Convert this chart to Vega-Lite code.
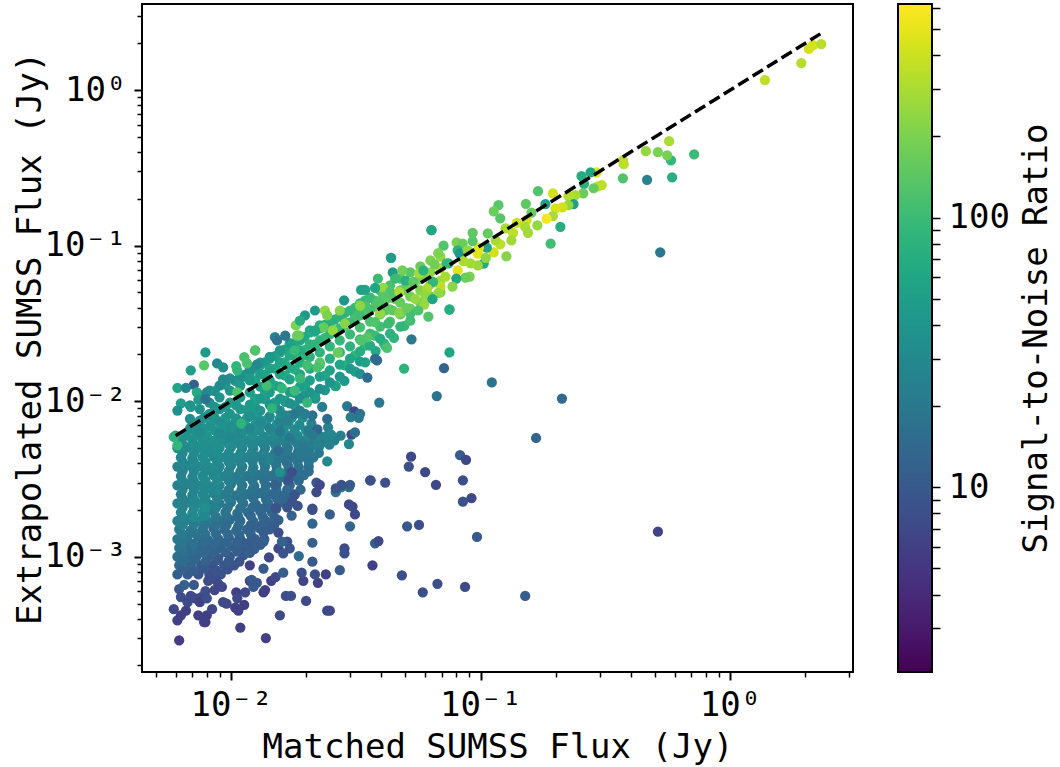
{
"$schema":"https://vega.github.io/schema/vega-lite/v6.json",
"width":711,"height":668,
"autosize":{"type":"none"},
"padding":{"left":142,"top":4,"right":207,"bottom":95},
"background":"white",
"config":{"font":"DejaVu Sans Mono","view":{"stroke":"black","strokeWidth":2}},
"resolve":{"scale":{"y":"independent"}},
"layer":[
{"data":{"values":[
{"x":0.0061,"y":0.00077,"snr":11},{"x":0.0067,"y":0.00077,"snr":10},{"x":0.0074,"y":0.00077,"snr":9},{"x":0.0082,"y":0.00077,"snr":8},{"x":0.0091,"y":0.00077,"snr":9},
{"x":0.0062,"y":0.00088,"snr":14},{"x":0.0069,"y":0.00088,"snr":12},{"x":0.0076,"y":0.00088,"snr":10},{"x":0.0084,"y":0.00088,"snr":9},{"x":0.0094,"y":0.00088,"snr":9},{"x":0.0103,"y":0.00088,"snr":9},
{"x":0.0061,"y":0.001,"snr":16},{"x":0.0067,"y":0.001,"snr":14},{"x":0.0073,"y":0.00102,"snr":13},{"x":0.0081,"y":0.001,"snr":11},{"x":0.0089,"y":0.00098,"snr":11},{"x":0.0099,"y":0.001,"snr":10},{"x":0.0112,"y":0.00102,"snr":10},
{"x":0.0062,"y":0.00114,"snr":18},{"x":0.0068,"y":0.00116,"snr":15},{"x":0.0075,"y":0.00114,"snr":14},{"x":0.0082,"y":0.00112,"snr":13},{"x":0.0091,"y":0.00114,"snr":12},{"x":0.0101,"y":0.00116,"snr":11},{"x":0.0113,"y":0.00114,"snr":10},{"x":0.0124,"y":0.00112,"snr":12},
{"x":0.0061,"y":0.0013,"snr":20},{"x":0.0067,"y":0.00133,"snr":18},{"x":0.0074,"y":0.0013,"snr":16},{"x":0.0081,"y":0.00128,"snr":14},{"x":0.0089,"y":0.0013,"snr":13},{"x":0.0098,"y":0.00133,"snr":12},{"x":0.0109,"y":0.0013,"snr":12},{"x":0.0121,"y":0.00128,"snr":11},{"x":0.0136,"y":0.0013,"snr":10},
{"x":0.0062,"y":0.0015,"snr":22},{"x":0.0069,"y":0.00148,"snr":20},{"x":0.0077,"y":0.0015,"snr":17},{"x":0.0085,"y":0.00153,"snr":15},{"x":0.0094,"y":0.0015,"snr":14},{"x":0.0105,"y":0.00148,"snr":13},{"x":0.0116,"y":0.0015,"snr":13},{"x":0.013,"y":0.00153,"snr":12},{"x":0.0143,"y":0.0015,"snr":11},
{"x":0.0061,"y":0.0017,"snr":26},{"x":0.0067,"y":0.00173,"snr":24},{"x":0.0074,"y":0.0017,"snr":30},{"x":0.0081,"y":0.00168,"snr":20},{"x":0.009,"y":0.0017,"snr":16},{"x":0.0099,"y":0.00173,"snr":15},{"x":0.0109,"y":0.0017,"snr":14},{"x":0.0123,"y":0.00168,"snr":13},{"x":0.0138,"y":0.0017,"snr":12},
{"x":0.0063,"y":0.00193,"snr":28},{"x":0.007,"y":0.0019,"snr":30},{"x":0.0077,"y":0.00193,"snr":32},{"x":0.0085,"y":0.00196,"snr":22},{"x":0.0095,"y":0.00193,"snr":18},{"x":0.0106,"y":0.0019,"snr":16},{"x":0.0117,"y":0.00193,"snr":16},{"x":0.0131,"y":0.00196,"snr":14},{"x":0.0146,"y":0.00193,"snr":13},
{"x":0.0061,"y":0.0022,"snr":26},{"x":0.0067,"y":0.00224,"snr":25},{"x":0.0074,"y":0.0022,"snr":30},{"x":0.0082,"y":0.00216,"snr":24},{"x":0.009,"y":0.0022,"snr":20},{"x":0.01,"y":0.00224,"snr":18},{"x":0.0112,"y":0.0022,"snr":17},{"x":0.0126,"y":0.00216,"snr":15},{"x":0.0141,"y":0.0022,"snr":14},{"x":0.0157,"y":0.00224,"snr":13},
{"x":0.0063,"y":0.00252,"snr":25},{"x":0.007,"y":0.00248,"snr":26},{"x":0.0077,"y":0.00252,"snr":28},{"x":0.0085,"y":0.00256,"snr":26},{"x":0.0094,"y":0.00252,"snr":22},{"x":0.0105,"y":0.00248,"snr":19},{"x":0.0116,"y":0.00252,"snr":18},{"x":0.013,"y":0.00256,"snr":16},{"x":0.0145,"y":0.00252,"snr":15},{"x":0.0162,"y":0.00248,"snr":14},{"x":0.018,"y":0.00252,"snr":13},
{"x":0.0061,"y":0.00288,"snr":24},{"x":0.0067,"y":0.00293,"snr":26},{"x":0.0074,"y":0.00288,"snr":28},{"x":0.0082,"y":0.00284,"snr":30},{"x":0.009,"y":0.00288,"snr":24},{"x":0.01,"y":0.00293,"snr":20},{"x":0.0111,"y":0.00288,"snr":19},{"x":0.0124,"y":0.00284,"snr":18},{"x":0.0138,"y":0.00288,"snr":16},{"x":0.0153,"y":0.00293,"snr":15},{"x":0.0172,"y":0.00288,"snr":14},
{"x":0.0063,"y":0.0033,"snr":24},{"x":0.007,"y":0.00325,"snr":26},{"x":0.0077,"y":0.0033,"snr":30},{"x":0.0085,"y":0.00335,"snr":28},{"x":0.0094,"y":0.0033,"snr":26},{"x":0.0104,"y":0.00325,"snr":22},{"x":0.0116,"y":0.0033,"snr":20},{"x":0.0129,"y":0.00335,"snr":19},{"x":0.0144,"y":0.0033,"snr":17},{"x":0.016,"y":0.00325,"snr":16},{"x":0.0178,"y":0.0033,"snr":15},{"x":0.0196,"y":0.00335,"snr":16},
{"x":0.0061,"y":0.0038,"snr":26},{"x":0.0067,"y":0.00385,"snr":28},{"x":0.0074,"y":0.0038,"snr":30},{"x":0.0082,"y":0.00375,"snr":32},{"x":0.009,"y":0.0038,"snr":28},{"x":0.01,"y":0.00385,"snr":26},{"x":0.0111,"y":0.0038,"snr":24},{"x":0.0123,"y":0.00375,"snr":22},{"x":0.0137,"y":0.0038,"snr":20},{"x":0.0152,"y":0.00385,"snr":18},{"x":0.017,"y":0.0038,"snr":18},{"x":0.0187,"y":0.00375,"snr":17},{"x":0.0205,"y":0.0038,"snr":18},
{"x":0.0063,"y":0.00435,"snr":28},{"x":0.007,"y":0.0043,"snr":30},{"x":0.0077,"y":0.00435,"snr":32},{"x":0.0085,"y":0.0044,"snr":30},{"x":0.0094,"y":0.00435,"snr":30},{"x":0.0104,"y":0.0043,"snr":28},{"x":0.0116,"y":0.00435,"snr":26},{"x":0.0128,"y":0.0044,"snr":24},{"x":0.0142,"y":0.00435,"snr":22},{"x":0.0158,"y":0.0043,"snr":20},{"x":0.0175,"y":0.00435,"snr":19},{"x":0.0194,"y":0.0044,"snr":19},{"x":0.0214,"y":0.00435,"snr":20},
{"x":0.0061,"y":0.005,"snr":32},{"x":0.0067,"y":0.00505,"snr":30},{"x":0.0074,"y":0.005,"snr":33},{"x":0.0082,"y":0.00495,"snr":32},{"x":0.009,"y":0.005,"snr":34},{"x":0.01,"y":0.00505,"snr":30},{"x":0.0111,"y":0.005,"snr":28},{"x":0.0123,"y":0.00495,"snr":28},{"x":0.0137,"y":0.005,"snr":24},{"x":0.0152,"y":0.00505,"snr":24},{"x":0.0169,"y":0.005,"snr":22},{"x":0.0187,"y":0.00495,"snr":20},{"x":0.0207,"y":0.005,"snr":22},{"x":0.0225,"y":0.00505,"snr":24},
{"x":0.0063,"y":0.0056,"snr":34},{"x":0.007,"y":0.00565,"snr":36},{"x":0.0077,"y":0.0056,"snr":36},{"x":0.0085,"y":0.00555,"snr":36},{"x":0.0094,"y":0.0056,"snr":34},{"x":0.0104,"y":0.00565,"snr":32},{"x":0.0116,"y":0.0056,"snr":30},{"x":0.0128,"y":0.00555,"snr":30},{"x":0.0142,"y":0.0056,"snr":28},{"x":0.0158,"y":0.00565,"snr":26},{"x":0.0175,"y":0.0056,"snr":25},{"x":0.0194,"y":0.00555,"snr":24},{"x":0.0214,"y":0.0056,"snr":24},{"x":0.0236,"y":0.00565,"snr":25},{"x":0.026,"y":0.0056,"snr":24},
{"x":0.0064,"y":0.00083,"snr":12},{"x":0.0071,"y":0.00081,"snr":11},{"x":0.0078,"y":0.00084,"snr":10},{"x":0.0087,"y":0.00082,"snr":9},{"x":0.0097,"y":0.00083,"snr":9},
{"x":0.0064,"y":0.00094,"snr":15},{"x":0.0072,"y":0.00096,"snr":13},{"x":0.0079,"y":0.00093,"snr":12},{"x":0.0088,"y":0.00095,"snr":10},{"x":0.0098,"y":0.00094,"snr":10},{"x":0.0108,"y":0.00093,"snr":9},
{"x":0.0065,"y":0.00107,"snr":17},{"x":0.007,"y":0.00109,"snr":15},{"x":0.0078,"y":0.00106,"snr":14},{"x":0.0086,"y":0.00108,"snr":12},{"x":0.0095,"y":0.00107,"snr":12},{"x":0.0106,"y":0.00108,"snr":11},{"x":0.0119,"y":0.00106,"snr":11},
{"x":0.0064,"y":0.00123,"snr":19},{"x":0.0071,"y":0.00121,"snr":17},{"x":0.0078,"y":0.00123,"snr":15},{"x":0.0086,"y":0.00122,"snr":14},{"x":0.0096,"y":0.00124,"snr":13},{"x":0.0107,"y":0.00122,"snr":12},{"x":0.0118,"y":0.00121,"snr":11},{"x":0.0131,"y":0.00119,"snr":11},
{"x":0.0064,"y":0.0014,"snr":21},{"x":0.0072,"y":0.00142,"snr":19},{"x":0.0079,"y":0.00139,"snr":17},{"x":0.0087,"y":0.00141,"snr":15},{"x":0.0097,"y":0.0014,"snr":14},{"x":0.0108,"y":0.00138,"snr":13},{"x":0.012,"y":0.0014,"snr":12},{"x":0.0135,"y":0.00143,"snr":11},
{"x":0.0064,"y":0.0016,"snr":24},{"x":0.0071,"y":0.00162,"snr":22},{"x":0.0078,"y":0.00159,"snr":19},{"x":0.0087,"y":0.00161,"snr":17},{"x":0.0096,"y":0.0016,"snr":15},{"x":0.0107,"y":0.00158,"snr":14},{"x":0.012,"y":0.0016,"snr":13},{"x":0.0134,"y":0.00162,"snr":12},{"x":0.0148,"y":0.00159,"snr":11},
{"x":0.0064,"y":0.00182,"snr":27},{"x":0.0071,"y":0.0018,"snr":30},{"x":0.0079,"y":0.00183,"snr":28},{"x":0.0087,"y":0.00181,"snr":20},{"x":0.0096,"y":0.00182,"snr":17},{"x":0.0107,"y":0.0018,"snr":15},{"x":0.012,"y":0.00183,"snr":14},{"x":0.0134,"y":0.00181,"snr":13},{"x":0.015,"y":0.00178,"snr":12},
{"x":0.0064,"y":0.00207,"snr":26},{"x":0.0071,"y":0.00205,"snr":30},{"x":0.0079,"y":0.00208,"snr":34},{"x":0.0087,"y":0.00206,"snr":24},{"x":0.0097,"y":0.00207,"snr":19},{"x":0.0109,"y":0.00205,"snr":17},{"x":0.0122,"y":0.00208,"snr":15},{"x":0.0136,"y":0.00206,"snr":14},{"x":0.0152,"y":0.00204,"snr":13},
{"x":0.0064,"y":0.00236,"snr":25},{"x":0.0071,"y":0.00234,"snr":28},{"x":0.0079,"y":0.00237,"snr":29},{"x":0.0088,"y":0.00235,"snr":25},{"x":0.0098,"y":0.00236,"snr":21},{"x":0.011,"y":0.00234,"snr":18},{"x":0.0123,"y":0.00237,"snr":16},{"x":0.0138,"y":0.00235,"snr":15},{"x":0.0153,"y":0.00236,"snr":14},{"x":0.017,"y":0.00234,"snr":13},
{"x":0.0064,"y":0.0027,"snr":25},{"x":0.0071,"y":0.00268,"snr":27},{"x":0.0079,"y":0.00271,"snr":29},{"x":0.0088,"y":0.00269,"snr":28},{"x":0.0098,"y":0.0027,"snr":22},{"x":0.011,"y":0.00268,"snr":20},{"x":0.0122,"y":0.00271,"snr":18},{"x":0.0137,"y":0.00269,"snr":16},{"x":0.0152,"y":0.0027,"snr":15},{"x":0.017,"y":0.00268,"snr":14},{"x":0.019,"y":0.0027,"snr":14},
{"x":0.0064,"y":0.00308,"snr":25},{"x":0.0071,"y":0.00306,"snr":27},{"x":0.0079,"y":0.00309,"snr":31},{"x":0.0088,"y":0.00307,"snr":30},{"x":0.0098,"y":0.00308,"snr":24},{"x":0.0109,"y":0.00306,"snr":21},{"x":0.0122,"y":0.00309,"snr":19},{"x":0.0136,"y":0.00307,"snr":17},{"x":0.0152,"y":0.00308,"snr":16},{"x":0.0169,"y":0.00306,"snr":15},{"x":0.0187,"y":0.00309,"snr":15},
{"x":0.0064,"y":0.00355,"snr":26},{"x":0.0071,"y":0.00352,"snr":28},{"x":0.0079,"y":0.00356,"snr":30},{"x":0.0088,"y":0.00354,"snr":30},{"x":0.0098,"y":0.00355,"snr":26},{"x":0.0109,"y":0.00352,"snr":22},{"x":0.0122,"y":0.00356,"snr":21},{"x":0.0136,"y":0.00354,"snr":19},{"x":0.0152,"y":0.00355,"snr":17},{"x":0.0169,"y":0.00352,"snr":16},{"x":0.0187,"y":0.00356,"snr":16},{"x":0.0205,"y":0.00354,"snr":16},
{"x":0.0064,"y":0.00407,"snr":28},{"x":0.0071,"y":0.00404,"snr":30},{"x":0.0079,"y":0.00408,"snr":32},{"x":0.0088,"y":0.00406,"snr":30},{"x":0.0098,"y":0.00407,"snr":28},{"x":0.0109,"y":0.00404,"snr":26},{"x":0.0122,"y":0.00408,"snr":23},{"x":0.0135,"y":0.00406,"snr":21},{"x":0.015,"y":0.00407,"snr":19},{"x":0.0167,"y":0.00404,"snr":18},{"x":0.0185,"y":0.00408,"snr":18},{"x":0.0205,"y":0.00406,"snr":19},
{"x":0.0064,"y":0.00465,"snr":30},{"x":0.0071,"y":0.00462,"snr":31},{"x":0.0079,"y":0.00466,"snr":33},{"x":0.0088,"y":0.00464,"snr":33},{"x":0.0098,"y":0.00465,"snr":30},{"x":0.0109,"y":0.00462,"snr":28},{"x":0.0121,"y":0.00466,"snr":26},{"x":0.0135,"y":0.00464,"snr":24},{"x":0.015,"y":0.00465,"snr":22},{"x":0.0167,"y":0.00462,"snr":20},{"x":0.0185,"y":0.00466,"snr":19},{"x":0.0205,"y":0.00464,"snr":20},{"x":0.0225,"y":0.00465,"snr":20},
{"x":0.0064,"y":0.00528,"snr":32},{"x":0.0071,"y":0.00525,"snr":33},{"x":0.0079,"y":0.00529,"snr":35},{"x":0.0088,"y":0.00527,"snr":34},{"x":0.0098,"y":0.00528,"snr":32},{"x":0.0109,"y":0.00525,"snr":30},{"x":0.0121,"y":0.00529,"snr":28},{"x":0.0135,"y":0.00527,"snr":26},{"x":0.015,"y":0.00528,"snr":24},{"x":0.0167,"y":0.00525,"snr":23},{"x":0.0185,"y":0.00529,"snr":22},{"x":0.0205,"y":0.00527,"snr":22},{"x":0.0228,"y":0.00528,"snr":24},{"x":0.0248,"y":0.00525,"snr":24},
{"x":0.0066,"y":0.006,"snr":36},{"x":0.0073,"y":0.00605,"snr":36},{"x":0.008,"y":0.006,"snr":38},{"x":0.0089,"y":0.00595,"snr":36},{"x":0.0099,"y":0.006,"snr":35},{"x":0.011,"y":0.00605,"snr":34},{"x":0.0122,"y":0.006,"snr":32},{"x":0.0135,"y":0.00595,"snr":30},{"x":0.015,"y":0.006,"snr":30},{"x":0.0167,"y":0.00605,"snr":30},{"x":0.0185,"y":0.006,"snr":28},{"x":0.0204,"y":0.00595,"snr":28},{"x":0.0226,"y":0.006,"snr":26},{"x":0.025,"y":0.00605,"snr":24},{"x":0.0275,"y":0.006,"snr":25},
{"x":0.0071,"y":0.0065,"snr":38},{"x":0.0078,"y":0.00655,"snr":40},{"x":0.0086,"y":0.0065,"snr":40},{"x":0.0095,"y":0.00645,"snr":38},{"x":0.0105,"y":0.0065,"snr":36},{"x":0.0117,"y":0.00655,"snr":34},{"x":0.013,"y":0.0065,"snr":32},{"x":0.0145,"y":0.00645,"snr":32},{"x":0.0162,"y":0.0065,"snr":32},{"x":0.018,"y":0.00655,"snr":30},{"x":0.02,"y":0.0065,"snr":30},{"x":0.022,"y":0.00645,"snr":28},{"x":0.0245,"y":0.0068,"snr":26},
{"x":0.0075,"y":0.0071,"snr":40},{"x":0.0083,"y":0.00705,"snr":40},{"x":0.0092,"y":0.0071,"snr":40},{"x":0.0102,"y":0.00715,"snr":38},{"x":0.0113,"y":0.0071,"snr":36},{"x":0.0125,"y":0.00705,"snr":36},{"x":0.0138,"y":0.0071,"snr":36},{"x":0.0153,"y":0.00715,"snr":36},{"x":0.017,"y":0.0071,"snr":34},{"x":0.0188,"y":0.00705,"snr":30},{"x":0.021,"y":0.0072,"snr":26},
{"x":0.0078,"y":0.0078,"snr":40},{"x":0.0086,"y":0.00785,"snr":40},{"x":0.0095,"y":0.0078,"snr":42},{"x":0.0105,"y":0.00775,"snr":42},{"x":0.0116,"y":0.0078,"snr":40},{"x":0.0128,"y":0.00785,"snr":38},{"x":0.0142,"y":0.0078,"snr":36},{"x":0.0157,"y":0.00775,"snr":38},{"x":0.0175,"y":0.0078,"snr":40},{"x":0.0194,"y":0.00785,"snr":35},
{"x":0.0086,"y":0.0092,"snr":40},{"x":0.0095,"y":0.0092,"snr":44},{"x":0.0105,"y":0.0094,"snr":45},{"x":0.0116,"y":0.0088,"snr":44},{"x":0.0125,"y":0.0092,"snr":46},{"x":0.0137,"y":0.0103,"snr":48},{"x":0.015,"y":0.0094,"snr":46},{"x":0.0165,"y":0.0099,"snr":46},{"x":0.018,"y":0.0094,"snr":40},{"x":0.0197,"y":0.0109,"snr":40},{"x":0.0218,"y":0.0104,"snr":38},{"x":0.0238,"y":0.0118,"snr":42},{"x":0.0263,"y":0.0125,"snr":45},{"x":0.0285,"y":0.0135,"snr":48},{"x":0.0315,"y":0.0155,"snr":55},{"x":0.0345,"y":0.0178,"snr":55},{"x":0.038,"y":0.021,"snr":65},{"x":0.041,"y":0.0235,"snr":75},{"x":0.045,"y":0.0255,"snr":85},{"x":0.0495,"y":0.0305,"snr":95},
{"x":0.0095,"y":0.0128,"snr":38},{"x":0.0104,"y":0.0135,"snr":40},{"x":0.0114,"y":0.0148,"snr":42},{"x":0.0125,"y":0.0163,"snr":46},{"x":0.0137,"y":0.0178,"snr":48},{"x":0.015,"y":0.0195,"snr":50},{"x":0.0164,"y":0.0215,"snr":55},{"x":0.018,"y":0.0236,"snr":60},{"x":0.0197,"y":0.0258,"snr":65},{"x":0.0217,"y":0.028,"snr":70},{"x":0.0238,"y":0.031,"snr":70},{"x":0.026,"y":0.0335,"snr":75},{"x":0.0286,"y":0.037,"snr":85},{"x":0.0315,"y":0.04,"snr":90},{"x":0.0345,"y":0.0445,"snr":100},
{"x":0.0125,"y":0.0136,"snr":60},{"x":0.0137,"y":0.0148,"snr":60},{"x":0.015,"y":0.0162,"snr":65},{"x":0.0164,"y":0.0178,"snr":70},{"x":0.018,"y":0.0195,"snr":80},{"x":0.0197,"y":0.0213,"snr":85},{"x":0.0217,"y":0.0232,"snr":90},{"x":0.0238,"y":0.0255,"snr":100},{"x":0.026,"y":0.0278,"snr":110},{"x":0.0286,"y":0.0305,"snr":115},{"x":0.0315,"y":0.0335,"snr":125},{"x":0.0345,"y":0.037,"snr":135},{"x":0.038,"y":0.0405,"snr":140},{"x":0.0415,"y":0.0445,"snr":150},{"x":0.0455,"y":0.0485,"snr":170},{"x":0.05,"y":0.0535,"snr":190},{"x":0.0548,"y":0.0585,"snr":210},{"x":0.06,"y":0.064,"snr":230},
{"x":0.0114,"y":0.007,"snr":42},{"x":0.0125,"y":0.0085,"snr":45},{"x":0.0137,"y":0.0075,"snr":40},{"x":0.015,"y":0.0098,"snr":50},{"x":0.0165,"y":0.0101,"snr":50},{"x":0.018,"y":0.0113,"snr":55},{"x":0.0198,"y":0.0126,"snr":60},{"x":0.0217,"y":0.0109,"snr":50},{"x":0.0238,"y":0.0146,"snr":65},{"x":0.0261,"y":0.0126,"snr":55},{"x":0.0286,"y":0.017,"snr":80},{"x":0.0314,"y":0.0197,"snr":85},{"x":0.0345,"y":0.0228,"snr":95},{"x":0.0378,"y":0.0264,"snr":105},{"x":0.0415,"y":0.0228,"snr":90},
{"x":0.0125,"y":0.0104,"snr":55},{"x":0.0137,"y":0.0113,"snr":60},{"x":0.015,"y":0.0126,"snr":65},{"x":0.0165,"y":0.0146,"snr":70},{"x":0.018,"y":0.016,"snr":75},{"x":0.0198,"y":0.0197,"snr":85},{"x":0.0217,"y":0.0228,"snr":90},{"x":0.0238,"y":0.025,"snr":100},{"x":0.0261,"y":0.0285,"snr":110},{"x":0.0286,"y":0.032,"snr":115},{"x":0.0314,"y":0.0356,"snr":120},{"x":0.0345,"y":0.0412,"snr":125},{"x":0.0378,"y":0.0444,"snr":130},{"x":0.0415,"y":0.0383,"snr":140},{"x":0.0455,"y":0.0455,"snr":150},{"x":0.05,"y":0.0515,"snr":165},
{"x":0.0109,"y":0.0139,"snr":45},{"x":0.0119,"y":0.0152,"snr":50},{"x":0.0131,"y":0.017,"snr":55},{"x":0.0143,"y":0.0188,"snr":50},{"x":0.0157,"y":0.0205,"snr":60},{"x":0.0172,"y":0.0228,"snr":60},{"x":0.0189,"y":0.0246,"snr":65},{"x":0.0207,"y":0.0285,"snr":60},{"x":0.0227,"y":0.0307,"snr":70},
{"x":0.0081,"y":0.0081,"snr":30},{"x":0.007,"y":0.007,"snr":32},{"x":0.006,"y":0.006,"snr":45},
{"x":0.00685,"y":0.0094,"snr":30},{"x":0.00685,"y":0.0077,"snr":32},{"x":0.00685,"y":0.0067,"snr":35},
{"x":0.0075,"y":0.0109,"snr":32},{"x":0.0075,"y":0.0089,"snr":35},{"x":0.0075,"y":0.0075,"snr":35},{"x":0.0075,"y":0.0063,"snr":32},
{"x":0.0082,"y":0.0117,"snr":30},{"x":0.0082,"y":0.0098,"snr":35},{"x":0.0082,"y":0.0083,"snr":40},{"x":0.0082,"y":0.0069,"snr":38},
{"x":0.009,"y":0.0126,"snr":30},{"x":0.009,"y":0.0106,"snr":40},{"x":0.009,"y":0.0089,"snr":38},{"x":0.009,"y":0.0074,"snr":35},{"x":0.009,"y":0.0062,"snr":30},
{"x":0.0099,"y":0.014,"snr":32},{"x":0.0099,"y":0.0117,"snr":40},{"x":0.0099,"y":0.0098,"snr":45},{"x":0.0099,"y":0.0083,"snr":40},{"x":0.0099,"y":0.0069,"snr":35},{"x":0.0099,"y":0.0059,"snr":30},
{"x":0.0109,"y":0.0146,"snr":35},{"x":0.0109,"y":0.0126,"snr":42},{"x":0.0109,"y":0.0106,"snr":45},{"x":0.0109,"y":0.0089,"snr":42},{"x":0.0109,"y":0.0074,"snr":35},{"x":0.0109,"y":0.0062,"snr":30},
{"x":0.0119,"y":0.0161,"snr":35},{"x":0.0119,"y":0.0136,"snr":45},{"x":0.0119,"y":0.0114,"snr":50},{"x":0.0119,"y":0.0095,"snr":45},{"x":0.0119,"y":0.008,"snr":35},{"x":0.0119,"y":0.0067,"snr":28},
{"x":0.0131,"y":0.0177,"snr":40},{"x":0.0131,"y":0.0149,"snr":50},{"x":0.0131,"y":0.0124,"snr":50},{"x":0.0131,"y":0.0104,"snr":45},{"x":0.0131,"y":0.0087,"snr":40},{"x":0.0131,"y":0.0073,"snr":30},
{"x":0.0143,"y":0.0193,"snr":42},{"x":0.0143,"y":0.0162,"snr":55},{"x":0.0143,"y":0.0136,"snr":55},{"x":0.0143,"y":0.0114,"snr":48},{"x":0.0143,"y":0.0095,"snr":40},{"x":0.0143,"y":0.008,"snr":30},{"x":0.0143,"y":0.0067,"snr":26},
{"x":0.0157,"y":0.0212,"snr":45},{"x":0.0157,"y":0.0177,"snr":60},{"x":0.0157,"y":0.0149,"snr":60},{"x":0.0157,"y":0.0124,"snr":50},{"x":0.0157,"y":0.0104,"snr":42},{"x":0.0157,"y":0.0087,"snr":30},{"x":0.0157,"y":0.0073,"snr":26},
{"x":0.0172,"y":0.0236,"snr":50},{"x":0.0172,"y":0.0197,"snr":65},{"x":0.0172,"y":0.0164,"snr":65},{"x":0.0172,"y":0.0138,"snr":55},{"x":0.0172,"y":0.0115,"snr":45},{"x":0.0172,"y":0.0097,"snr":35},{"x":0.0172,"y":0.0081,"snr":27},
{"x":0.0189,"y":0.0253,"snr":60},{"x":0.0189,"y":0.0212,"snr":70},{"x":0.0189,"y":0.0177,"snr":70},{"x":0.0189,"y":0.0149,"snr":60},{"x":0.0189,"y":0.0124,"snr":50},{"x":0.0189,"y":0.0104,"snr":35},{"x":0.0189,"y":0.0087,"snr":25},
{"x":0.0207,"y":0.0277,"snr":65},{"x":0.0207,"y":0.0232,"snr":80},{"x":0.0207,"y":0.0193,"snr":80},{"x":0.0207,"y":0.0162,"snr":65},{"x":0.0207,"y":0.0136,"snr":50},{"x":0.0207,"y":0.0114,"snr":40},
{"x":0.0227,"y":0.0294,"snr":70},{"x":0.0227,"y":0.0246,"snr":85},{"x":0.0227,"y":0.0206,"snr":85},{"x":0.0227,"y":0.0172,"snr":70},{"x":0.0227,"y":0.0144,"snr":50},{"x":0.0227,"y":0.012,"snr":35},
{"x":0.0249,"y":0.032,"snr":75},{"x":0.0249,"y":0.0269,"snr":90},{"x":0.0249,"y":0.0225,"snr":90},{"x":0.0249,"y":0.0188,"snr":75},{"x":0.0249,"y":0.0158,"snr":55},{"x":0.0249,"y":0.0132,"snr":38},
{"x":0.0273,"y":0.035,"snr":80},{"x":0.0273,"y":0.0294,"snr":95},{"x":0.0273,"y":0.0246,"snr":95},{"x":0.0273,"y":0.0206,"snr":80},{"x":0.0273,"y":0.0172,"snr":60},{"x":0.0273,"y":0.0144,"snr":42},
{"x":0.03,"y":0.0383,"snr":90},{"x":0.03,"y":0.032,"snr":100},{"x":0.03,"y":0.0269,"snr":100},{"x":0.03,"y":0.0225,"snr":80},{"x":0.03,"y":0.0188,"snr":60},{"x":0.03,"y":0.0162,"snr":45},
{"x":0.0329,"y":0.0425,"snr":95},{"x":0.0329,"y":0.0356,"snr":110},{"x":0.0329,"y":0.0298,"snr":115},{"x":0.0329,"y":0.025,"snr":90},{"x":0.0329,"y":0.0209,"snr":70},{"x":0.0329,"y":0.018,"snr":50},
{"x":0.0361,"y":0.0463,"snr":100},{"x":0.0361,"y":0.0389,"snr":120},{"x":0.0361,"y":0.0325,"snr":125},{"x":0.0361,"y":0.0272,"snr":100},{"x":0.0361,"y":0.0228,"snr":70},
{"x":0.0396,"y":0.0515,"snr":110},{"x":0.0396,"y":0.043,"snr":130},{"x":0.0396,"y":0.0361,"snr":135},{"x":0.0396,"y":0.0302,"snr":110},{"x":0.0396,"y":0.0253,"snr":70},
{"x":0.0434,"y":0.0555,"snr":120},{"x":0.0434,"y":0.0463,"snr":140},{"x":0.0434,"y":0.0389,"snr":150},{"x":0.0434,"y":0.0325,"snr":120},{"x":0.0434,"y":0.0272,"snr":80},
{"x":0.0477,"y":0.0615,"snr":130},{"x":0.0477,"y":0.0515,"snr":150},{"x":0.0477,"y":0.043,"snr":160},{"x":0.0477,"y":0.0361,"snr":150},
{"x":0.0523,"y":0.0673,"snr":140},{"x":0.0523,"y":0.0565,"snr":170},{"x":0.0523,"y":0.0472,"snr":180},{"x":0.0523,"y":0.0394,"snr":160},{"x":0.0523,"y":0.033,"snr":110},
{"x":0.0574,"y":0.0735,"snr":170},{"x":0.0574,"y":0.0615,"snr":200},{"x":0.0574,"y":0.0515,"snr":210},{"x":0.0574,"y":0.043,"snr":170},
{"x":0.063,"y":0.0803,"snr":200},{"x":0.063,"y":0.0673,"snr":240},{"x":0.063,"y":0.0565,"snr":240},{"x":0.063,"y":0.0472,"snr":190},
{"x":0.0691,"y":0.085,"snr":250},{"x":0.0691,"y":0.0715,"snr":300},{"x":0.0691,"y":0.0597,"snr":280},{"x":0.0691,"y":0.05,"snr":200},
{"x":0.0062,"y":0.00029,"snr":5.5},{"x":0.0138,"y":0.0003,"snr":6},{"x":0.0109,"y":0.00035,"snr":6},{"x":0.0157,"y":0.00042,"snr":7},{"x":0.0243,"y":0.00045,"snr":7},{"x":0.0249,"y":0.00045,"snr":7},{"x":0.02,"y":0.00052,"snr":7},{"x":0.0174,"y":0.00056,"snr":8},{"x":0.0166,"y":0.00056,"snr":8},{"x":0.0135,"y":0.00059,"snr":6},{"x":0.0137,"y":0.00061,"snr":6},
{"x":0.0145,"y":0.0007,"snr":6},{"x":0.0151,"y":0.00074,"snr":7},{"x":0.0119,"y":0.0007,"snr":6},{"x":0.0123,"y":0.00064,"snr":10},{"x":0.0127,"y":0.00068,"snr":10},{"x":0.0121,"y":0.00071,"snr":10},{"x":0.0195,"y":0.0007,"snr":6.5},{"x":0.0223,"y":0.00068,"snr":6},{"x":0.0217,"y":0.00077,"snr":8},{"x":0.024,"y":0.00077,"snr":6},{"x":0.0192,"y":0.00079,"snr":8},{"x":0.0162,"y":0.00079,"snr":11},{"x":0.0135,"y":0.00084,"snr":10},{"x":0.0119,"y":0.00088,"snr":6},{"x":0.0142,"y":0.00099,"snr":7},{"x":0.0155,"y":0.00113,"snr":7},{"x":0.0187,"y":0.00101,"snr":15},{"x":0.0212,"y":0.00093,"snr":10},{"x":0.0273,"y":0.00082,"snr":10},{"x":0.0369,"y":0.00088,"snr":6},{"x":0.0285,"y":0.00113,"snr":7},{"x":0.0285,"y":0.00105,"snr":8},{"x":0.0378,"y":0.00122,"snr":12},{"x":0.039,"y":0.00126,"snr":7},
{"x":0.0162,"y":0.00105,"snr":9},{"x":0.0172,"y":0.00113,"snr":9},{"x":0.0168,"y":0.00125,"snr":9},{"x":0.016,"y":0.00125,"snr":12},{"x":0.0212,"y":0.00123,"snr":11},{"x":0.0135,"y":0.00125,"snr":11},{"x":0.0125,"y":0.0013,"snr":11},{"x":0.0114,"y":0.00122,"snr":11},{"x":0.0106,"y":0.00125,"snr":12},
{"x":0.03,"y":0.00157,"snr":13},{"x":0.0212,"y":0.00163,"snr":13},{"x":0.0249,"y":0.00187,"snr":11},{"x":0.0314,"y":0.00187,"snr":7},{"x":0.0297,"y":0.00217,"snr":7},{"x":0.0212,"y":0.00204,"snr":7},{"x":0.0155,"y":0.00143,"snr":8},{"x":0.0149,"y":0.0016,"snr":11},{"x":0.0155,"y":0.00172,"snr":11},{"x":0.0175,"y":0.00184,"snr":12},{"x":0.0125,"y":0.00157,"snr":12},{"x":0.0119,"y":0.0015,"snr":12},{"x":0.0151,"y":0.00206,"snr":9},{"x":0.0168,"y":0.00208,"snr":9},{"x":0.0176,"y":0.00226,"snr":9},{"x":0.0185,"y":0.00212,"snr":9},
{"x":0.0062,"y":0.00062,"snr":9},{"x":0.0063,"y":0.00055,"snr":8},{"x":0.0059,"y":0.00046,"snr":7},{"x":0.0063,"y":0.00042,"snr":6},{"x":0.0061,"y":0.00039,"snr":6},{"x":0.0066,"y":0.00045,"snr":6},{"x":0.0067,"y":0.00051,"snr":7},{"x":0.0072,"y":0.00054,"snr":7},{"x":0.0069,"y":0.00056,"snr":7},{"x":0.0076,"y":0.00055,"snr":7},{"x":0.0079,"y":0.0006,"snr":8},{"x":0.0075,"y":0.00051,"snr":6},{"x":0.008,"y":0.00054,"snr":8},{"x":0.0074,"y":0.00042,"snr":6},{"x":0.008,"y":0.00042,"snr":6},{"x":0.0084,"y":0.00046,"snr":7},{"x":0.0078,"y":0.00038,"snr":6},{"x":0.0079,"y":0.00038,"snr":6},{"x":0.0093,"y":0.00051,"snr":7},{"x":0.0096,"y":0.0005,"snr":7},{"x":0.0105,"y":0.00059,"snr":6},{"x":0.0106,"y":0.00054,"snr":7},{"x":0.0114,"y":0.00059,"snr":7},{"x":0.0113,"y":0.00049,"snr":6},{"x":0.0104,"y":0.00047,"snr":6},{"x":0.0107,"y":0.00045,"snr":6},{"x":0.0081,"y":0.0007,"snr":8},{"x":0.0087,"y":0.00071,"snr":8},{"x":0.0086,"y":0.00061,"snr":7},{"x":0.0092,"y":0.00064,"snr":7},{"x":0.0089,"y":0.00067,"snr":7},{"x":0.0065,"y":0.00066,"snr":12},{"x":0.0071,"y":0.00066,"snr":10},
{"x":1.38,"y":1.16,"snr":350},{"x":1.93,"y":1.49,"snr":330},{"x":2.07,"y":1.84,"snr":420},{"x":2.15,"y":1.95,"snr":430},{"x":2.32,"y":1.98,"snr":340},
{"x":0.718,"y":0.387,"snr":100},{"x":0.586,"y":0.275,"snr":75},{"x":0.58,"y":0.354,"snr":90},{"x":0.57,"y":0.47,"snr":300},{"x":0.56,"y":0.381,"snr":190},{"x":0.514,"y":0.399,"snr":200},{"x":0.525,"y":0.0906,"snr":20},{"x":0.46,"y":0.405,"snr":250},{"x":0.465,"y":0.265,"snr":25},{"x":0.372,"y":0.271,"snr":130},{"x":0.372,"y":0.354,"snr":330},{"x":0.375,"y":0.334,"snr":350},{"x":0.514,"y":0.00145,"snr":6.5},
{"x":0.292,"y":0.296,"snr":480},{"x":0.276,"y":0.296,"snr":60},{"x":0.254,"y":0.28,"snr":70},{"x":0.26,"y":0.25,"snr":75},{"x":0.295,"y":0.241,"snr":350},{"x":0.306,"y":0.245,"snr":350},{"x":0.284,"y":0.234,"snr":160},{"x":0.258,"y":0.217,"snr":170},{"x":0.24,"y":0.211,"snr":300},{"x":0.225,"y":0.208,"snr":330},{"x":0.195,"y":0.217,"snr":420},{"x":0.17,"y":0.224,"snr":130},{"x":0.182,"y":0.185,"snr":50},{"x":0.236,"y":0.185,"snr":50},{"x":0.225,"y":0.182,"snr":250},{"x":0.213,"y":0.176,"snr":420},{"x":0.2,"y":0.174,"snr":450},{"x":0.195,"y":0.155,"snr":300},{"x":0.184,"y":0.149,"snr":580},{"x":0.169,"y":0.135,"snr":250},{"x":0.152,"y":0.186,"snr":150},{"x":0.16,"y":0.163,"snr":170},{"x":0.118,"y":0.182,"snr":140},{"x":0.113,"y":0.166,"snr":170},{"x":0.12,"y":0.15,"snr":140},{"x":0.153,"y":0.146,"snr":400},{"x":0.14,"y":0.14,"snr":400},{"x":0.151,"y":0.132,"snr":300},{"x":0.155,"y":0.121,"snr":280},{"x":0.209,"y":0.132,"snr":70},{"x":0.191,"y":0.103,"snr":110},{"x":0.126,"y":0.129,"snr":300},{"x":0.107,"y":0.12,"snr":160},{"x":0.135,"y":0.121,"snr":350},{"x":0.133,"y":0.108,"snr":280},{"x":0.127,"y":0.0855,"snr":220},{"x":0.113,"y":0.0905,"snr":420},{"x":0.12,"y":0.102,"snr":350},{"x":0.115,"y":0.108,"snr":300},{"x":0.106,"y":0.0972,"snr":55},{"x":0.0985,"y":0.0972,"snr":480},{"x":0.0975,"y":0.089,"snr":480},{"x":0.093,"y":0.121,"snr":150},{"x":0.093,"y":0.107,"snr":140},{"x":0.0802,"y":0.105,"snr":200},{"x":0.0848,"y":0.103,"snr":170},{"x":0.0711,"y":0.1,"snr":130},{"x":0.0677,"y":0.0895,"snr":200},{"x":0.081,"y":0.0932,"snr":80},{"x":0.0825,"y":0.089,"snr":45},{"x":0.0889,"y":0.0932,"snr":250},{"x":0.0636,"y":0.126,"snr":65},{"x":0.103,"y":0.0767,"snr":70},{"x":0.105,"y":0.0835,"snr":240},{"x":0.0975,"y":0.0746,"snr":260},{"x":0.0912,"y":0.077,"snr":280},{"x":0.0855,"y":0.0795,"snr":300},{"x":0.081,"y":0.0693,"snr":480},{"x":0.0745,"y":0.077,"snr":60},{"x":0.0731,"y":0.077,"snr":90},{"x":0.0654,"y":0.0757,"snr":180},{"x":0.0724,"y":0.0632,"snr":300},{"x":0.0585,"y":0.066,"snr":200},{"x":0.0905,"y":0.0632,"snr":200},{"x":0.0871,"y":0.0622,"snr":170},{"x":0.08,"y":0.0615,"snr":60},{"x":0.0772,"y":0.0545,"snr":230},{"x":0.0691,"y":0.0545,"snr":350},{"x":0.0677,"y":0.0495,"snr":250},{"x":0.0645,"y":0.0585,"snr":90},{"x":0.0612,"y":0.053,"snr":300},{"x":0.0601,"y":0.0478,"snr":250},{"x":0.0595,"y":0.0418,"snr":260},{"x":0.0642,"y":0.0453,"snr":60},{"x":0.0751,"y":0.0389,"snr":110},
{"x":0.0438,"y":0.0835,"snr":55},{"x":0.0445,"y":0.0673,"snr":45},{"x":0.0486,"y":0.0693,"snr":180},{"x":0.0388,"y":0.0615,"snr":100},{"x":0.0455,"y":0.0615,"snr":100},{"x":0.0407,"y":0.0535,"snr":250},{"x":0.0345,"y":0.052,"snr":60},{"x":0.0332,"y":0.052,"snr":55},{"x":0.0378,"y":0.0535,"snr":60},{"x":0.05,"y":0.0597,"snr":75},{"x":0.0538,"y":0.0585,"snr":150},{"x":0.0568,"y":0.0665,"snr":280},{"x":0.059,"y":0.0693,"snr":80},{"x":0.0434,"y":0.0505,"snr":130},{"x":0.0473,"y":0.0505,"snr":300},{"x":0.0407,"y":0.047,"snr":140},{"x":0.0548,"y":0.0455,"snr":250},{"x":0.0618,"y":0.035,"snr":130},{"x":0.0385,"y":0.043,"snr":130},{"x":0.0445,"y":0.0383,"snr":150},{"x":0.0473,"y":0.037,"snr":220},{"x":0.0427,"y":0.0315,"snr":100},{"x":0.0477,"y":0.0302,"snr":90},{"x":0.0396,"y":0.0365,"snr":250},{"x":0.0523,"y":0.0365,"snr":110},{"x":0.0506,"y":0.0397,"snr":170},{"x":0.0563,"y":0.0383,"snr":120},
{"x":0.0268,"y":0.0205,"snr":170},{"x":0.0227,"y":0.0177,"snr":140},{"x":0.0352,"y":0.0257,"snr":140},{"x":0.0332,"y":0.0246,"snr":130},{"x":0.0378,"y":0.0322,"snr":130},{"x":0.0202,"y":0.017,"snr":110},{"x":0.0222,"y":0.0165,"snr":120},{"x":0.018,"y":0.0212,"snr":100},{"x":0.016,"y":0.0121,"snr":90},{"x":0.0139,"y":0.0126,"snr":110},{"x":0.0189,"y":0.014,"snr":95},{"x":0.0146,"y":0.009,"snr":85},{"x":0.011,"y":0.0072,"snr":85},{"x":0.0202,"y":0.0098,"snr":90},{"x":0.018,"y":0.0117,"snr":100},{"x":0.0106,"y":0.0114,"snr":130},{"x":0.0187,"y":0.0265,"snr":170},
{"x":0.0529,"y":0.025,"snr":20},{"x":0.0422,"y":0.022,"snr":120},{"x":0.0751,"y":0.0206,"snr":60},{"x":0.0494,"y":0.0162,"snr":80},{"x":0.0714,"y":0.0163,"snr":13},{"x":0.0329,"y":0.015,"snr":35},{"x":0.0352,"y":0.0142,"snr":15},{"x":0.0378,"y":0.0187,"snr":15},{"x":0.0385,"y":0.0183,"snr":15},{"x":0.0751,"y":0.0388,"snr":70},{"x":0.0636,"y":0.126,"snr":60},{"x":0.0438,"y":0.0835,"snr":50},{"x":0.0284,"y":0.0445,"snr":40},{"x":0.0217,"y":0.0383,"snr":45},{"x":0.0198,"y":0.0356,"snr":45},{"x":0.0182,"y":0.0307,"snr":200},{"x":0.0189,"y":0.033,"snr":70},{"x":0.0238,"y":0.0383,"snr":250},{"x":0.0243,"y":0.0356,"snr":200},{"x":0.0273,"y":0.0383,"snr":220},{"x":0.0329,"y":0.0412,"snr":230},{"x":0.0286,"y":0.0315,"snr":220},{"x":0.0256,"y":0.0285,"snr":250},{"x":0.0235,"y":0.0298,"snr":160},{"x":0.0217,"y":0.0285,"snr":60},{"x":0.0184,"y":0.0264,"snr":170},{"x":0.0165,"y":0.0264,"snr":20},{"x":0.015,"y":0.0258,"snr":25},{"x":0.0153,"y":0.0246,"snr":18},{"x":0.0125,"y":0.0212,"snr":120},
{"x":0.0079,"y":0.0206,"snr":45},{"x":0.0113,"y":0.0192,"snr":120},{"x":0.0125,"y":0.0212,"snr":130},{"x":0.0078,"y":0.017,"snr":140},{"x":0.0069,"y":0.0158,"snr":50},{"x":0.0088,"y":0.0175,"snr":30},{"x":0.0093,"y":0.0165,"snr":35},{"x":0.0116,"y":0.0175,"snr":120},{"x":0.0106,"y":0.0158,"snr":90},{"x":0.0105,"y":0.0168,"snr":90},{"x":0.0127,"y":0.0172,"snr":30},{"x":0.0093,"y":0.0138,"snr":30},{"x":0.0071,"y":0.0128,"snr":12},{"x":0.0061,"y":0.0122,"snr":60},{"x":0.0066,"y":0.0122,"snr":30},{"x":0.0073,"y":0.0114,"snr":65},{"x":0.008,"y":0.0114,"snr":30},{"x":0.0086,"y":0.0116,"snr":35},{"x":0.0063,"y":0.0097,"snr":50},{"x":0.0061,"y":0.0087,"snr":35},{"x":0.0069,"y":0.0092,"snr":40},{"x":0.0074,"y":0.0102,"snr":45},{"x":0.0079,"y":0.0103,"snr":18},{"x":0.0059,"y":0.0059,"snr":80},{"x":0.0061,"y":0.0052,"snr":90},
{"x":0.0393,"y":0.0098,"snr":20},{"x":0.0292,"y":0.0093,"snr":20},{"x":0.0312,"y":0.0086,"snr":7},{"x":0.0302,"y":0.0079,"snr":22},{"x":0.0329,"y":0.0083,"snr":18},{"x":0.0325,"y":0.0078,"snr":20},{"x":0.0243,"y":0.0077,"snr":15},{"x":0.0232,"y":0.0092,"snr":22},{"x":0.0212,"y":0.0081,"snr":17},{"x":0.0198,"y":0.0083,"snr":22},{"x":0.018,"y":0.0083,"snr":20},{"x":0.0165,"y":0.0081,"snr":30},{"x":0.0205,"y":0.0064,"snr":22},{"x":0.0222,"y":0.0066,"snr":13},{"x":0.0212,"y":0.0061,"snr":20},{"x":0.0243,"y":0.006,"snr":28},{"x":0.0252,"y":0.0061,"snr":28},{"x":0.0304,"y":0.0061,"snr":7},{"x":0.0314,"y":0.0063,"snr":16},{"x":0.0297,"y":0.0053,"snr":28},{"x":0.0243,"y":0.0041,"snr":30},{"x":0.0363,"y":0.0031,"snr":18},{"x":0.0277,"y":0.0028,"snr":18},{"x":0.0297,"y":0.0028,"snr":18},{"x":0.0263,"y":0.0026,"snr":18},{"x":0.022,"y":0.003,"snr":10},{"x":0.022,"y":0.0026,"snr":7},{"x":0.0307,"y":0.0021,"snr":7},{"x":0.0212,"y":0.002,"snr":8},{"x":0.0192,"y":0.0045,"snr":20},{"x":0.0194,"y":0.005,"snr":20},{"x":0.0175,"y":0.0035,"snr":8},{"x":0.017,"y":0.0031,"snr":9},{"x":0.0157,"y":0.0035,"snr":35},{"x":0.015,"y":0.0029,"snr":12},{"x":0.0168,"y":0.0049,"snr":20},{"x":0.0172,"y":0.0058,"snr":20},{"x":0.0168,"y":0.0075,"snr":25},{"x":0.0157,"y":0.0064,"snr":20},{"x":0.0155,"y":0.0048,"snr":15},{"x":0.0142,"y":0.0042,"snr":25},{"x":0.0168,"y":0.0041,"snr":17},{"x":0.0168,"y":0.0027,"snr":15},{"x":0.018,"y":0.0025,"snr":9},
{"x":0.151,"y":0.00056,"snr":11},{"x":0.0867,"y":0.00064,"snr":7},{"x":0.0672,"y":0.00067,"snr":8},{"x":0.0587,"y":0.00059,"snr":8},{"x":0.0484,"y":0.00076,"snr":8},{"x":0.0968,"y":0.00134,"snr":10},{"x":0.085,"y":0.00226,"snr":9},{"x":0.092,"y":0.00238,"snr":7},{"x":0.0508,"y":0.00157,"snr":10},{"x":0.0567,"y":0.0016,"snr":8},{"x":0.0828,"y":0.0045,"snr":10},{"x":0.0875,"y":0.0042,"snr":7},{"x":0.085,"y":0.0031,"snr":8},{"x":0.0663,"y":0.0029,"snr":7},{"x":0.0527,"y":0.0044,"snr":7},{"x":0.0516,"y":0.0038,"snr":8},{"x":0.06,"y":0.0035,"snr":7},{"x":0.0415,"y":0.003,"snr":8},{"x":0.0361,"y":0.0031,"snr":8},{"x":0.03,"y":0.0029,"snr":10},{"x":0.0277,"y":0.0029,"snr":9},{"x":0.0263,"y":0.00275,"snr":9},{"x":0.0227,"y":0.0029,"snr":7},{"x":0.212,"y":0.0104,"snr":15},{"x":0.167,"y":0.0058,"snr":13},{"x":0.111,"y":0.0132,"snr":18},{"x":0.0668,"y":0.0108,"snr":18}
]},
"mark":{"type":"circle","opacity":1},
"encoding":{
"x":{"field":"x","type":"quantitative","title":"Matched SUMSS Flux (Jy)","scale":{"type":"log","domain":[0.0044,3.11],"nice":false},
"axis":{"grid":false,"domain":false,"values":[0.005,0.006,0.007,0.008,0.009,0.01,0.02,0.03,0.04,0.05,0.06,0.07,0.08,0.09,0.1,0.2,0.3,0.4,0.5,0.6,0.7,0.8,0.9,1,2,3],
"labelExpr":"datum.value==0.01?'10⁻²':datum.value==0.1?'10⁻¹':datum.value==1?'10⁰':''","labelFontSize":34,"labelColor":"black","labelPadding":8,"labelOverlap":false,"labelFlush":false,
"tickColor":"black","tickSize":{"condition":{"test":"datum.value==0.01||datum.value==0.1||datum.value==1","value":8},"value":5},"tickWidth":{"condition":{"test":"datum.value==0.01||datum.value==0.1||datum.value==1","value":2},"value":1.5},
"titleFontSize":34,"titleFontWeight":"normal","titleColor":"black","titlePadding":8}},
"y":{"field":"y","type":"quantitative","title":"Extrapolated SUMSS Flux (Jy)","scale":{"type":"log","domain":[0.0001815,3.58],"nice":false},
"axis":{"grid":false,"domain":false,"orient":"left","values":[0.0002,0.0003,0.0004,0.0005,0.0006,0.0007,0.0008,0.0009,0.001,0.002,0.003,0.004,0.005,0.006,0.007,0.008,0.009,0.01,0.02,0.03,0.04,0.05,0.06,0.07,0.08,0.09,0.1,0.2,0.3,0.4,0.5,0.6,0.7,0.8,0.9,1,2,3],
"labelExpr":"datum.value==0.001?'10⁻³':datum.value==0.01?'10⁻²':datum.value==0.1?'10⁻¹':datum.value==1?'10⁰':''","labelFontSize":34,"labelColor":"black","labelPadding":8,"labelOverlap":false,"labelFlush":false,
"tickColor":"black","tickSize":{"condition":{"test":"datum.value==0.001||datum.value==0.01||datum.value==0.1||datum.value==1","value":8},"value":5},"tickWidth":{"condition":{"test":"datum.value==0.001||datum.value==0.01||datum.value==0.1||datum.value==1","value":2},"value":1.5},
"titleFontSize":34,"titleFontWeight":"normal","titleColor":"black","titlePadding":-3}},
"color":{"field":"snr","type":"quantitative","scale":{"type":"log","domain":[2.065,620],"scheme":"viridis"},
"legend":{"orient":"none","legendX":756,"legendY":0,"title":null,"direction":"vertical","gradientLength":668,"gradientThickness":34,"labelOpacity":0,"gradientStrokeColor":"black","gradientStrokeWidth":2}},
"size":{"value":105}
}},
{"data":{"values":[{"x":0.006,"y":0.006},{"x":2.3,"y":2.3}]},
"mark":{"type":"line","color":"black","strokeWidth":3.5,"strokeDash":[12,5]},
"encoding":{
"x":{"field":"x","type":"quantitative"},
"y":{"field":"y","type":"quantitative","scale":{"type":"log","domain":[0.0001815,3.58],"nice":false},"axis":null}
}},
{"data":{"values":[{"colorbar":2.065},{"colorbar":620}]},
"mark":{"type":"rule","opacity":0},
"encoding":{
"y":{"field":"colorbar","type":"quantitative","title":"Signal-to-Noise Ratio","scale":{"type":"log","domain":[2.065,620],"nice":false},
"axis":{"orient":"right","offset":79,"grid":false,"domain":false,"values":[3,4,5,6,7,8,9,10,20,30,40,50,60,70,80,90,100,200,300,400,500,600],
"labelExpr":"datum.value==10?'10':datum.value==100?'100':''","labelFontSize":34,"labelColor":"black","labelPadding":8,"labelOverlap":false,"labelFlush":false,
"tickColor":"black","tickSize":8,"tickWidth":1.5,
"titleFontSize":34,"titleFontWeight":"normal","titleColor":"black","titleAngle":270,"titlePadding":44}}
}}
]
}
